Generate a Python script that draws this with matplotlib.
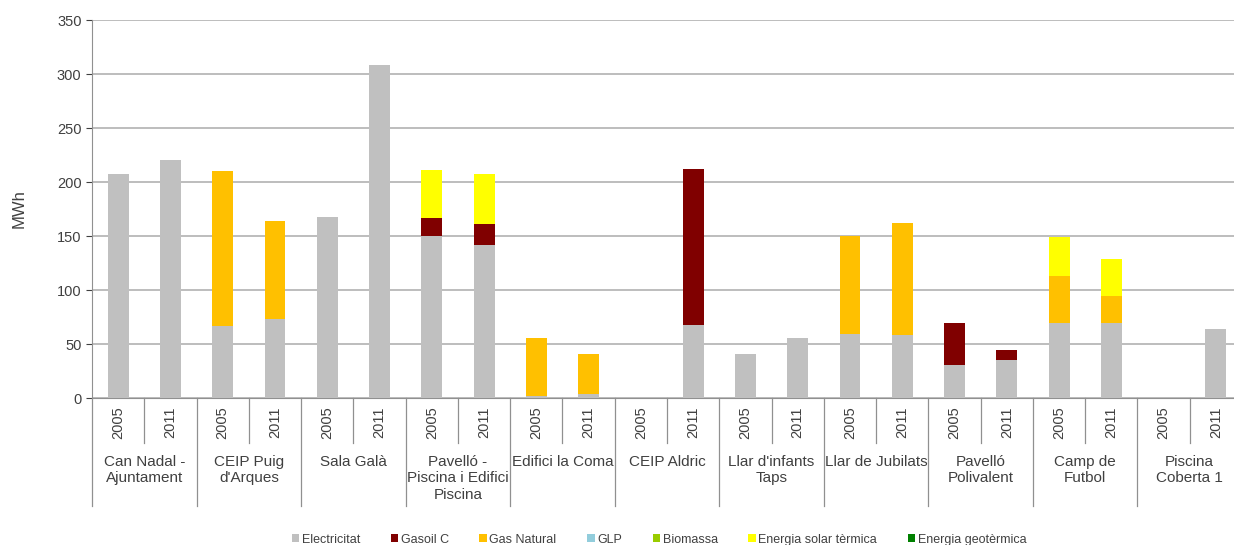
import matplotlib.pyplot as plt
import matplotlib.transforms as mtransforms
import numpy as np

plt.rcParams['font.family'] = ['Liberation Sans', 'DejaVu Sans']

## Data (MWh)
groups = ['Can Nadal -\nAjuntament', 'CEIP Puig\nd\'Arques', 'Sala Galà',
          'Pavelló -\nPiscina i Edifici\nPiscina', 'Edifici la Coma', 'CEIP Aldric',
          'Llar d\'infants\nTaps', 'Llar de Jubilats', 'Pavelló\nPolivalent',
          'Camp de\nFutbol', 'Piscina\nCoberta 1']
years = ['2005', '2011']

electricitat = [207, 220, 67, 73, 168, 308, 150, 142, 2, 4, 0, 68,
                41, 56, 59, 58, 31, 35, 69, 69, 0, 64]
gasoil_c = [0, 0, 0, 0, 0, 0, 17, 19, 0, 0, 0, 144,
            0, 0, 0, 0, 38, 9, 0, 0, 0, 0]
gas_natural = [0, 0, 143, 91, 0, 0, 0, 0, 54, 37, 0, 0,
               0, 0, 91, 104, 0, 0, 44, 25, 0, 0]
glp = [0] * 22
biomassa = [0] * 22
solar_termica = [0, 0, 0, 0, 0, 0, 44, 46, 0, 0, 0, 0,
                 0, 0, 0, 0, 0, 0, 36, 35, 0, 0]
geotermica = [0] * 22

series = [('Electricitat', electricitat, '#C0C0C0'),
          ('Gasoil C', gasoil_c, '#800000'),
          ('Gas Natural', gas_natural, '#FFC000'),
          ('GLP', glp, '#92CDDC'),
          ('Biomassa', biomassa, '#99CC00'),
          ('Energia solar tèrmica', solar_termica, '#FFFF00'),
          ('Energia geotèrmica', geotermica, '#008000')]

## Figure
fig = plt.figure(figsize=(12.34, 5.45), dpi=100)
ax = fig.add_axes([92 / 1234, 1 - 398 / 545, 1150 / 1234, 378 / 545])

n = len(groups) * len(years)
x = np.arange(n)
bottom = np.zeros(n)
for name, vals, color in series:
    vals = np.array(vals, dtype=float)
    ax.bar(x, vals, 0.4, bottom=bottom, color=color, label=name, zorder=3)
    bottom += vals

## y axis
ax.set_ylim(0, 350)
ax.set_yticks(range(0, 351, 50))
ax.tick_params(axis='y', labelsize=10.5, colors='#404040', length=4, width=0.8)
ax.set_ylabel('MWh', fontsize=12, color='#404040', labelpad=22)
ax.grid(axis='y', color='#B8B8B8', linewidth=1.3, zorder=0)
ax.set_axisbelow(True)

## x axis (two level labels)
ax.set_xlim(-0.5, n - 0.5)
ax.set_xticks([])
for s in ['top', 'right']:
    ax.spines[s].set_visible(False)
ax.spines['left'].set_color('#909090')
ax.spines['bottom'].set_color('#909090')
ax.spines['left'].set_zorder(4)

trans = mtransforms.blended_transform_factory(ax.transData, ax.transAxes)
for i in range(n):
    ax.text(i, -0.065, years[i % 2], rotation=90, ha='center', va='center',
            fontsize=10.5, color='#404040', transform=trans)
    if i % 2 == 1:
        ax.plot([i - 0.5, i - 0.5], [0, -0.12], color='#909090', lw=0.9,
                transform=trans, clip_on=False)
for g in range(len(groups)):
    xe = 2 * g - 0.5
    ax.plot([xe, xe], [0, -0.285], color='#909090', lw=0.9,
            transform=trans, clip_on=False)
for g, name in enumerate(groups):
    ax.text(2 * g + 0.5, -0.15, name, ha='center', va='top', fontsize=11,
            color='#404040', linespacing=1.25, transform=trans)

## legend
fig.legend(loc='center', bbox_to_anchor=(0.534, 0.010), ncol=7, frameon=False,
           fontsize=9, handlelength=0.6, handleheight=0.6, handletextpad=0.2,
           columnspacing=2.45, labelcolor='#404040')

fig.savefig('out.png', dpi=100)
